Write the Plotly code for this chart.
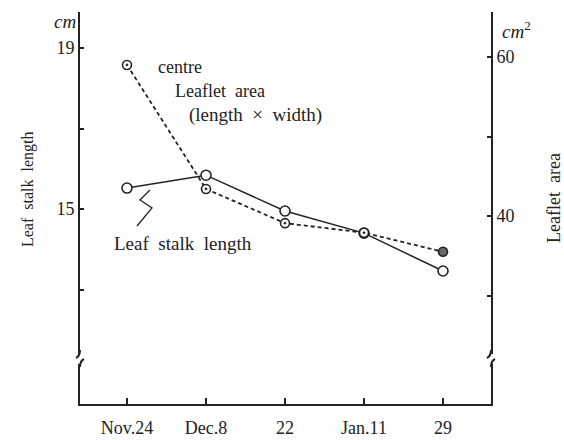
import plotly.graph_objects as go

# ---- data ----
dates = ["Nov.24", "Dec.8", "22", "Jan.11", "29"]
stalk_length = [15.52, 15.84, 14.95, 14.40, 13.46]      # cm (left axis)
leaflet_area = [59.0, 43.4, 39.1, 37.9, 35.5]           # cm^2 (right axis)
left_ticks = [15, 19]
left_minor = [13, 17]
right_ticks = [40, 60]
right_minor = [30, 50]

W, H = 564, 440
L, R, T, B = 80, 491, 12, 404   # plot-area pixel box

def px(x):
    return (x - L) / (R - L)

def py(y):
    return (B - y) / (B - T)

FONT = "'Liberation Serif', 'Times New Roman', serif"
INK = "#222222"

xs = list(range(len(dates)))

fig = go.Figure()

area_symbols = ["circle-dot"] * (len(dates) - 1) + ["circle"]
area_colors = ["white"] * (len(dates) - 1) + ["#666666"]

fig.add_trace(go.Scatter(
    x=xs, y=leaflet_area, yaxis="y2", mode="lines+markers",
    line=dict(color=INK, width=1.8, dash="4px,3px"),
    marker=dict(symbol=area_symbols, size=9, color=area_colors,
                line=dict(color=INK, width=1.6)),
    showlegend=False, hoverinfo="skip"))

fig.add_trace(go.Scatter(
    x=xs, y=stalk_length, yaxis="y", mode="lines+markers",
    line=dict(color=INK, width=1.5),
    marker=dict(symbol="circle", size=10, color="white",
                line=dict(color=INK, width=1.6)),
    showlegend=False, hoverinfo="skip"))

x0 = -47 / 79
x1 = 4 + 48 / 79
yax_common = dict(showline=True, linecolor=INK, linewidth=2, showgrid=False,
                  zeroline=False, ticks="inside", ticklen=4, tickwidth=1.5,
                  tickcolor=INK, automargin=False,
                  tickfont=dict(family=FONT, size=18, color=INK))
fig.update_layout(
    width=W, height=H,
    margin=dict(l=L, r=W - R, t=T, b=H - B, autoexpand=False),
    paper_bgcolor="white", plot_bgcolor="white",
    font=dict(family=FONT, color=INK, size=18),
    xaxis=dict(range=[x0, x1], tickmode="array", tickvals=xs, ticktext=dates,
               showline=True, linecolor=INK, linewidth=2, showgrid=False,
               zeroline=False, ticks="inside", ticklen=6, tickwidth=2,
               tickcolor=INK, ticklabelstandoff=6, automargin=False,
               tickfont=dict(family=FONT, size=18, color=INK)),
    yaxis=dict(range=[19 - (B - 48) / 40.25, 19 + (48 - T) / 40.25],
               tickmode="array", tickvals=left_ticks,
               minor=dict(tickvals=left_minor, ticks="inside", ticklen=4,
                          tickwidth=1.5, tickcolor=INK, showgrid=False),
               **yax_common),
    yaxis2=dict(range=[60 - (B - 57) / 7.95, 60 + (57 - T) / 7.95],
                overlaying="y", side="right",
                tickmode="array", tickvals=right_ticks,
                minor=dict(tickvals=right_minor, ticks="inside", ticklen=4,
                           tickwidth=1.5, tickcolor=INK, showgrid=False),
                **yax_common),
)

# ---- axis breaks ----
shapes = []
for ax in (L, R):
    shapes.append(dict(type="rect", xref="paper", yref="paper",
                       x0=px(ax - 5), x1=px(ax + 5), y0=py(364), y1=py(354),
                       fillcolor="white", line=dict(width=0), layer="above"))
    p1 = f"M {px(ax)} {py(350)} Q {px(ax)} {py(356)} {px(ax-4)} {py(358)}"
    p2 = f"M {px(ax+4)} {py(359)} Q {px(ax)} {py(361)} {px(ax)} {py(367)}"
    for p in (p1, p2):
        shapes.append(dict(type="path", xref="paper", yref="paper", path=p,
                           line=dict(color=INK, width=2), layer="above"))

# lightning pointer from label to stalk-length line
zig = (f"M {px(150)} {py(190)} L {px(140)} {py(200)} L {px(152)} {py(208)} "
       f"L {px(137)} {py(226)}")
shapes.append(dict(type="path", xref="paper", yref="paper", path=zig,
                   line=dict(color=INK, width=1.3)))
fig.update_layout(shapes=shapes)

# ---- text ----
def ann(text, x, y, size=18, xanchor="left", angle=0, yanchor="middle"):
    fig.add_annotation(text=text, x=px(x), y=py(y), xref="paper", yref="paper",
                       showarrow=False, xanchor=xanchor, yanchor=yanchor,
                       textangle=angle, font=dict(family=FONT, size=size, color=INK))

ann("<i>cm</i>", 78, 22, size=19, xanchor="right")
ann("<i>cm</i><sup>2</sup>", 500, 30, size=19, xanchor="left")
ann("centre", 156, 67, size=18)
ann("Leaflet  area", 173, 91, size=18)
ann("(length  ×  width)", 187, 115, size=19)
ann("Leaf  stalk  length", 112, 243, size=19)
ann("Leaf  stalk  length", 28, 189, size=16, xanchor="center", angle=-90)
ann("Leaflet  area", 554, 198, size=18, xanchor="center", angle=-90)

fig.write_html("out.html")
